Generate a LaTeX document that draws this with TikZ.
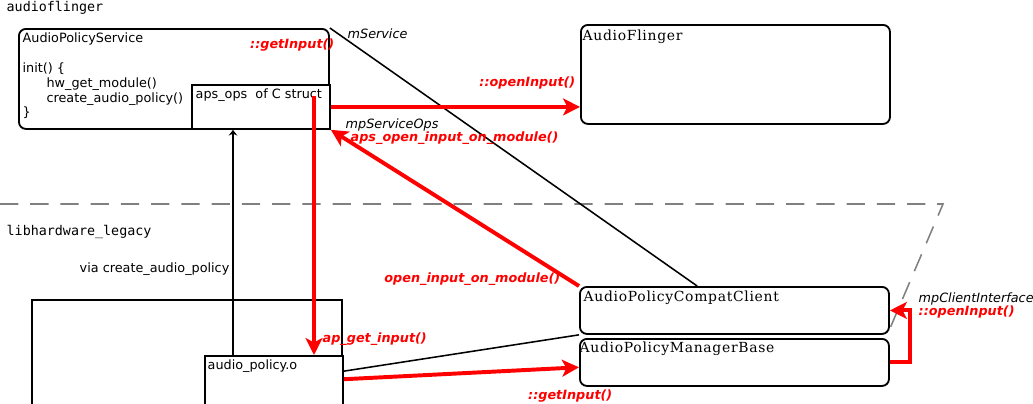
\documentclass[tikz,border=0pt]{standalone}
\usepackage{fontspec}
\setmainfont{DejaVu Sans}
\setmonofont{DejaVu Sans Mono}
\newfontfamily\serifbox[LetterSpace=5]{DejaVu Serif}
\usetikzlibrary{arrows.meta,calc}

\begin{document}
\begin{tikzpicture}[x=0.025cm, y=-0.025cm,
    every node/.style={inner sep=1pt, font=\fontsize{9.1}{10.6}\selectfont},
    objbox/.style={draw, line width=1.3pt, rounded corners=5pt, anchor=north west, inner sep=0pt},
    plainbox/.style={draw, line width=1.3pt, anchor=north west, inner sep=0pt},
    boxtitle/.style={anchor=north west, font=\fontsize{9.9}{11}\selectfont\serifbox},
    call/.style={text=red, font=\fontsize{9.1}{10.6}\selectfont\bfseries\itshape},
    member/.style={font=\fontsize{9.1}{10.6}\selectfont\itshape},
    redarrow/.style={draw=red, line width=2.8pt, -{Stealth[length=12pt, width=12pt, inset=3pt]}}]
    \clip (0,0) rectangle (1033,403);

    \node[anchor=west, font=\fontsize{9.5}{11}\selectfont\ttfamily] (af-lbl) at (5,8) {audioflinger};
    \node[anchor=west, font=\fontsize{9.5}{11}\selectfont\ttfamily] (hw-lbl) at (5,232) {libhardware\_legacy};

    \draw[gray, line width=1.1pt, dash pattern=on 13pt off 8.5pt] (0,204) -- (943,204) -- (888,333);

    \node[objbox, minimum width=7.75cm, minimum height=2.5cm] (aps-svc) at (18,28) {};
    \node[anchor=north west, align=left] (svc-txt) at (21,31)
        {AudioPolicyService\\[10.6pt]init() \{\\\hspace*{17pt}hw\_get\_module()\\\hspace*{17pt}create\_audio\_policy()\\\}};
    \node[plainbox, fill=white, minimum width=3.45cm, minimum height=1.1cm] (aps) at (191,84) {};
    \node[anchor=north west] (aps-txt) at (194,87) {aps\_ops\ \ of C struct};

    \node[objbox, minimum width=7.725cm, minimum height=2.475cm] (af) at (580,24) {};
    \node[boxtitle] (af-txt) at (581,28) {AudioFlinger};

    \node[objbox, minimum width=7.725cm, minimum height=1.175cm] (compat) at (579,286) {};
    \node[boxtitle] (compat-txt) at (582,289) {AudioPolicyCompatClient};
    \node[objbox, minimum width=7.725cm, minimum height=1.175cm] (mgr) at (579,338) {};
    \node[boxtitle] (mgr-txt) at (578,340) {AudioPolicyManagerBase};

    \node[plainbox, minimum width=7.75cm, minimum height=3cm] (lib) at (31,299) {};
    \node[plainbox, fill=white, minimum width=3.45cm, minimum height=1.3cm] (apo) at (204,355) {};
    \node[anchor=north west] (apo-txt) at (206,358) {audio\_policy.o};

    \coordinate (via) at (233,355);
    \draw[line width=1.2pt, -{Stealth[length=4pt, width=6pt]}] (via) -- (via |- aps.south);
    \node[anchor=east] (via-txt) at (231,269) {via create\_audio\_policy};

    \draw[line width=1.1pt] (aps-svc.north east) -- ($(compat.north west)!0.38!(compat.north east)$);
    \node[member, anchor=west] (msvc) at (346,34) {mService};

    \coordinate (gi) at (314,96);
    \draw[redarrow] (gi) -- (gi |- apo.north);
    \node[call, anchor=east] (gi-txt) at (336,45) {::getInput()};
    \node[call, anchor=west] (agi-txt) at (321,339) {ap\_get\_input()};

    \draw[redarrow] (aps.east) -- (aps.east -| af.west);
    \node[call, anchor=east] (oi-txt) at (577,83) {::openInput()};

    \draw[redarrow] (compat.north west) -- (aps.south east);
    \node[member, anchor=west] (mso) at (344,125) {mpServiceOps};
    \node[call, anchor=west] (aoi-txt) at (349,138) {aps\_open\_input\_on\_module()};
    \node[call, anchor=east] (ooi-txt) at (562,279) {open\_input\_on\_module()};

    \draw[line width=1.1pt] ($(apo.north east)!0.3!(apo.south east)$) -- (compat.south west);
    \draw[redarrow] ($(apo.north east)!0.45!(apo.south east)$) -- ($(mgr.north west)!0.6!(mgr.south west)$);
    \node[call, anchor=east] (mgi-txt) at (614,396) {::getInput()};

    \draw[redarrow] (mgr.east) -- ++(20,0) |- (compat.east);
    \node[member, anchor=west] (mci) at (917,299) {mpClientInterface};
    \node[call, anchor=west] (coi-txt) at (917,312) {::openInput()};
\end{tikzpicture}
\end{document}
